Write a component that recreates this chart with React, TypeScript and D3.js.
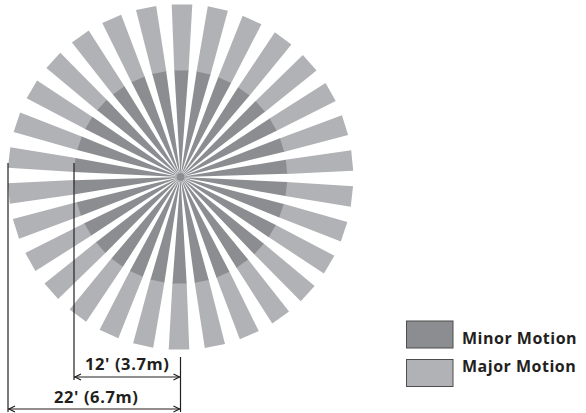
import React from "react";
import * as d3 from "d3";

// Data
const zoneNames = ["Minor Motion", "Major Motion"];
const zoneFeet = [12, 22];
const zoneMeters = [3.7, 6.7];
const zoneColors = ["#8c8d90", "#b1b2b5"];
const WEDGE_COUNT = 30;

const W = 586;
const H = 413;
const cx = 180.5;
const cy = 177;
const ROT = (0.5 * Math.PI) / 180;

// drawing radius scale (drawing is not to scale)
const rScale = d3.scaleLinear().domain([0, 12, 22]).range([0, 106.5, 172.5]);
const angleScale = d3
  .scaleLinear()
  .domain([0, WEDGE_COUNT])
  .range([0, 2 * Math.PI]);

const H1 = 7.1; // half width at minor boundary
const H2 = 10.3; // half width at outer end

function pt(theta: number, r: number, h: number): [number, number] {
  const ux = Math.sin(theta);
  const uy = -Math.cos(theta);
  const vx = Math.cos(theta);
  const vy = Math.sin(theta);
  return [cx + r * ux + h * vx, cy + r * uy + h * vy];
}

const line = d3.line();

export default function App() {
  const r1 = rScale(zoneFeet[0]);
  const R = rScale(zoneFeet[1]);
  const wedges = d3.range(WEDGE_COUNT).map((i) => {
    const t = angleScale(i) + ROT;
    const major = line([
      pt(t, r1 - 0.6, -H1),
      pt(t, R, -H2),
      pt(t, R, H2),
      pt(t, r1 - 0.6, H1),
    ])! + "Z";
    const minor = line([
      [cx, cy],
      pt(t, r1, -H1),
      pt(t, r1, H1),
    ])! + "Z";
    return { major, minor, i };
  });

  const ink = "#231f20";
  const xOuter = cx - R;
  const xInner = cx - r1;
  const y12 = 377;
  const y22 = 409;
  const chev = (x: number, y: number, dir: number) =>
    `M${x + dir * 6},${y - 3}L${x},${y}L${x + dir * 6},${y + 3}`;

  const font = "'Open Sans', 'DejaVu Sans', sans-serif";

  return (
    <svg
      width={W}
      height={H}
      viewBox={`0 0 ${W} ${H}`}
      style={{ position: "absolute", left: 0, top: 0, background: "#fff" }}
    >
      <g>
        {wedges.map((w) => (
          <g key={w.i}>
            <path d={w.major} fill={zoneColors[1]} />
            <path d={w.minor} fill={zoneColors[0]} />
          </g>
        ))}
        <circle cx={cx} cy={cy} r={4} fill={zoneColors[0]} />
      </g>

      {/* dimension lines */}
      <g stroke={ink} strokeWidth={1.2} fill="none">
        <line x1={xOuter} y1={163} x2={xOuter} y2={412} />
        <line x1={xInner} y1={163} x2={xInner} y2={380} />
        <line x1={cx} y1={357} x2={cx} y2={412} />
        <line x1={xInner} y1={y12} x2={cx} y2={y12} />
        <line x1={xOuter} y1={y22} x2={cx} y2={y22} />
        <path d={chev(xInner + 1, y12, 1)} />
        <path d={chev(cx - 1, y12, -1)} />
        <path d={chev(xOuter + 1, y22, 1)} />
        <path d={chev(cx - 1, y22, -1)} />
      </g>
      <g
        fontFamily={font}
        fontWeight={700}
        fontSize={16.5}
        letterSpacing={0.6}
        fill={ink}
        textAnchor="middle"
      >
        <text x={(xInner + cx) / 2} y={370}>
          {`${zoneFeet[0]}' (${zoneMeters[0]}m)`}
        </text>
        <text x={(xOuter + cx) / 2 + 2} y={403}>
          {`${zoneFeet[1]}' (${zoneMeters[1]}m)`}
        </text>
      </g>

      {/* legend */}
      {zoneNames.map((name, i) => (
        <g key={name}>
          <rect
            x={406.5}
            y={321 + i * 38.5}
            width={46.5}
            height={27}
            fill={zoneColors[i]}
            stroke="#4d4d4f"
            strokeWidth={1}
          />
          <text
            x={462}
            y={344 + i * 28}
            fontFamily={font}
            fontWeight={700}
            fontSize={16}
            letterSpacing={0.5}
            fill={ink}
          >
            {name}
          </text>
        </g>
      ))}
    </svg>
  );
}
